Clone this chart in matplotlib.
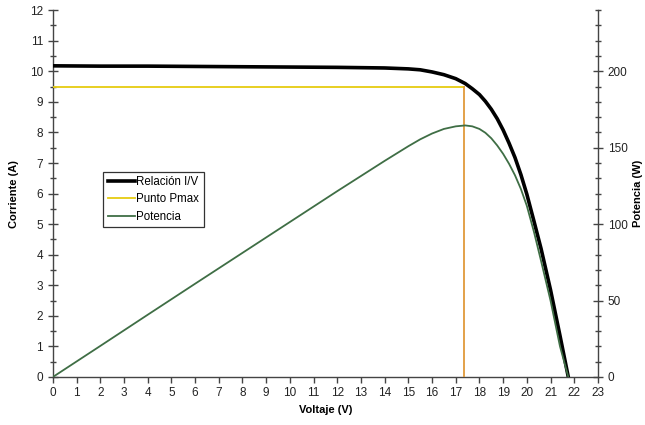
import matplotlib
matplotlib.use("Agg")
import matplotlib.pyplot as plt
from matplotlib.ticker import MultipleLocator

plt.rcParams['font.family'] = ['Liberation Sans', 'DejaVu Sans']

# curva I/V
voltaje = [0, 2, 4, 6, 8, 10, 12, 14, 15, 15.5, 16, 16.5, 17, 17.4, 17.7, 18.0,
           18.25, 18.5, 18.75, 19.0, 19.25, 19.5, 19.75, 20.0, 20.3, 20.6, 21.0,
           21.4, 21.75]
corriente = [10.18, 10.17, 10.17, 10.16, 10.15, 10.14, 10.13, 10.11, 10.08, 10.05,
             9.98, 9.89, 9.76, 9.60, 9.43, 9.24, 9.02, 8.76, 8.45, 8.08, 7.65,
             7.18, 6.62, 5.98, 5.10, 4.20, 2.85, 1.35, 0.0]
# potencia (W) en los mismos puntos
potencia = [0, 20.3, 40.7, 61.0, 81.2, 101.4, 121.6, 141.4, 151.0, 155.5,
            159.3, 162.3, 164.0, 164.6, 164.0, 162.3, 159.8, 156.2, 151.5, 146.0,
            139.5, 132.0, 123.0, 112.0, 95.0, 76.0, 50.0, 20.0, 0.0]

# punto de maxima potencia
v_pmax = 17.36
i_pmax = 9.48

fig = plt.figure(figsize=(6.45, 4.25), dpi=100)
ax = fig.add_axes([0.082, 0.113, 0.845, 0.863])
ax2 = ax.twinx()

l1, = ax.plot(voltaje, corriente, color='black', lw=2.6, label='Relación I/V', zorder=4)
l2, = ax.plot([0, v_pmax], [i_pmax, i_pmax], color='#e6cc10', lw=1.3, label='Punto Pmax', zorder=3)
ax.plot([v_pmax, v_pmax], [i_pmax, 0], color='#e09a3a', lw=1.3, zorder=3)
l3, = ax2.plot(voltaje, potencia, color='#3f6e45', lw=1.3, label='Potencia', zorder=3)

ax.set_xlim(0, 23)
ax.set_ylim(0, 12)
ax2.set_ylim(0, 240)

ax.xaxis.set_major_locator(MultipleLocator(1))
ax.yaxis.set_major_locator(MultipleLocator(1))
ax.yaxis.set_minor_locator(MultipleLocator(0.5))
ax2.yaxis.set_major_locator(MultipleLocator(50))
ax2.yaxis.set_minor_locator(MultipleLocator(10))

spine_col = '#444444'
for a in (ax, ax2):
    a.spines['top'].set_visible(False)
    for s in ('left', 'right', 'bottom'):
        a.spines[s].set_color(spine_col)
        a.spines[s].set_linewidth(1.0)
ax.spines['right'].set_visible(False)
ax2.spines['left'].set_visible(False)
ax2.spines['bottom'].set_visible(False)

ax.tick_params(axis='both', which='major', direction='inout', length=7, width=1,
               colors=spine_col, labelcolor='#222222', labelsize=8.5)
ax.tick_params(axis='y', which='minor', direction='inout', length=5, width=1, colors=spine_col)
ax.tick_params(axis='x', which='major', direction='out', length=4)
ax2.tick_params(axis='y', which='major', direction='inout', length=7, width=1,
                colors=spine_col, labelcolor='#222222', labelsize=8.5)
ax2.tick_params(axis='y', which='minor', direction='inout', length=5, width=1, colors=spine_col)

ax.set_xlabel('Voltaje (V)', fontsize=8, fontweight='bold', labelpad=4)
ax.set_ylabel('Corriente (A)', fontsize=8, fontweight='bold', labelpad=8)
ax2.set_ylabel('Potencia (W)', fontsize=8, fontweight='bold')
ax2.yaxis.set_label_coords(1.064, 0.5)

leg = ax.legend(handles=[l1, l2, l3], loc='upper left', bbox_to_anchor=(0.092, 0.56),
                fontsize=8.3, handlelength=2.4, handletextpad=0.1, borderpad=0.4,
                labelspacing=0.45, fancybox=False, framealpha=1, borderaxespad=0)
leg.get_frame().set_edgecolor('#333333')
leg.get_frame().set_linewidth(0.9)

fig.savefig('out.png', dpi=100)
